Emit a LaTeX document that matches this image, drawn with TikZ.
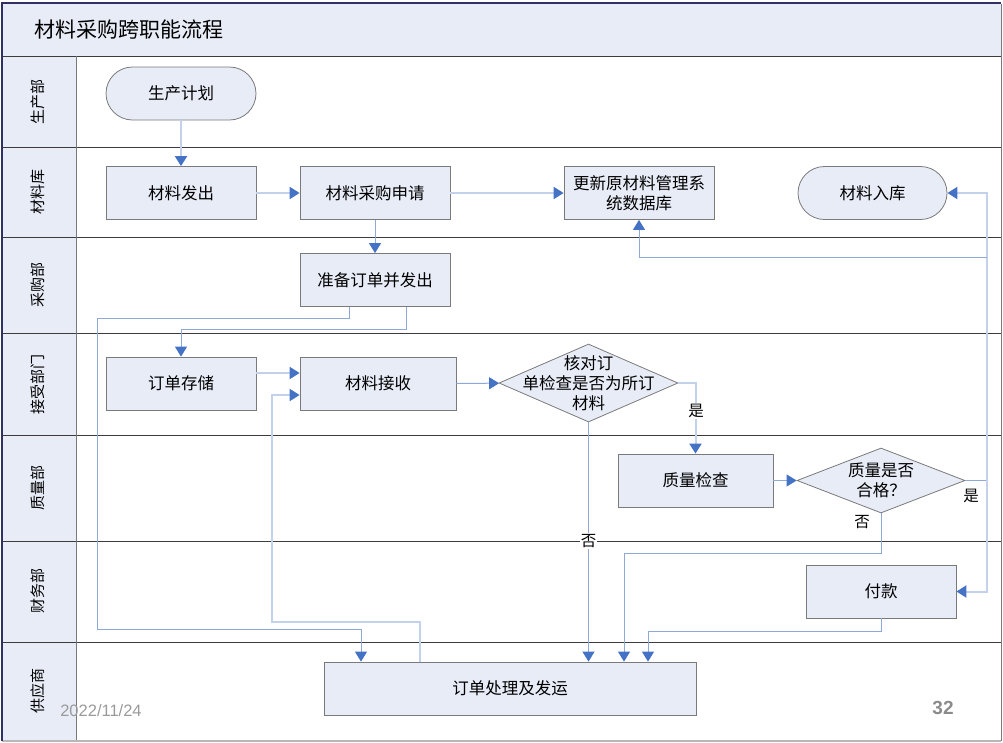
\documentclass[tikz,border=0pt]{standalone}
\usepackage{fontspec}
\newfontfamily\cjk{Noto Sans CJK SC}
\newfontfamily\arial{Liberation Sans}
\usetikzlibrary{arrows.meta,shapes.geometric}
\definecolor{nodefill}{HTML}{E8ECF7}
\definecolor{bordergray}{HTML}{7A7A7A}
\definecolor{lanegray}{HTML}{3C3C3C}
\definecolor{linethin}{HTML}{8EA8DA}
\definecolor{linethick}{HTML}{C3D1EC}
\definecolor{arrowblue}{HTML}{4472C4}
\definecolor{footgray}{HTML}{9A9A9A}
\tikzset{
  box/.style={draw=bordergray, line width=0.8pt, fill=nodefill, minimum width=150pt, minimum height=53pt,
    font=\cjk\fontsize{16.5}{20}\selectfont, align=center, inner sep=2pt},
  term/.style={box, rounded corners=26.5pt},
  dec/.style={diamond, draw=bordergray, line width=0.8pt, fill=nodefill, inner sep=0pt},
  dectext/.style={font=\cjk\fontsize{16.5}{20}\selectfont, align=center, inner sep=0pt},
  tip/.style={-{Triangle[width=12pt,length=10pt,color=arrowblue,fill=arrowblue]}},
  connthin/.style={draw=linethin, line width=1pt, tip},
  connthick/.style={draw=linethick, line width=2pt, tip},
  lanelabel/.style={rotate=90, font=\cjk\fontsize{15}{17}\selectfont},
  edgelabel/.style={font=\cjk\fontsize{15.5}{17}\selectfont, fill=white, inner sep=1pt},
  laneline/.style={draw=lanegray, line width=1pt}
}
\begin{document}
\begin{tikzpicture}[x=1pt,y=-1pt]
\useasboundingbox (0,0) rectangle (1003,742);
% frame and bands
\fill[nodefill] (2,4) rectangle (1001,56);
\fill[nodefill] (2,56) rectangle (76,741);
\foreach \yy in {56,147,237,333,435,541,642} {\draw[laneline] (2,\yy) -- (1001,\yy);}
\draw[draw=bordergray, line width=1pt] (76,56) -- (76,741);
\draw[draw=bordergray, line width=1pt] (1001,4) -- (1001,741);
\draw[draw=footgray!70, line width=1.5pt] (2,741) -- (1001,741);
\draw[draw=lanegray!80!blue, line width=2pt] (2,741) -- (2,3) -- (1001,3);
\node[anchor=west, font=\cjk\fontsize{21}{24}\selectfont] (title) at (31,30) {材料采购跨职能流程};
% lane labels
\node[lanelabel] (l1) at (38,101.5) {生产部};
\node[lanelabel] (l2) at (38,192) {材料库};
\node[lanelabel] (l3) at (38,285) {采购部};
\node[lanelabel] (l4) at (38,384) {接受部门};
\node[lanelabel] (l5) at (38,488) {质量部};
\node[lanelabel] (l6) at (38,591) {财务部};
\node[lanelabel] (l7) at (38,691) {供应商};
% nodes
\node[term] (plan) at (181,93.5) {生产计划};
\node[box] (out) at (181,193) {材料发出};
\node[box] (req) at (375,193) {材料采购申请};
\node[box] (upd) at (639,193) {更新原材料管理系\\统数据库};
\node[term, minimum width=149pt] (stock) at (872.5,193) {材料入库};
\node[box] (prep) at (375,280) {准备订单并发出};
\node[box] (store) at (181,383.5) {订单存储};
\node[box, minimum width=156pt] (recv) at (378,383.5) {材料接收};
\node[dec, minimum width=179pt, minimum height=78pt] (d1) at (588.5,383) {};
\node[dectext] (d1t) at (588.5,383) {核对订\\单检查是否为所订\\材料};
\node[box, minimum width=155pt] (qc) at (695.5,480.5) {质量检查};
\node[dec, minimum width=168pt, minimum height=65pt] (d2) at (881,480.5) {};
\node[dectext] (d2t) at (881,480) {质量是否\\合格？};
\node[box] (pay) at (881,591.5) {付款};
\node[box, minimum width=372pt] (ship) at (510,688.5) {订单处理及发运};
% junction coordinates
\coordinate (j1) at (987,480.5);
\coordinate (j2) at (987,257);
% connectors
\draw[connthick] (plan) -- (out);
\draw[connthick] (out) -- (req);
\draw[connthick] (req) -- (upd);
\draw[connthin] (req) -- (prep);
\draw[connthin] ([xshift=-26pt]prep.south) -- ++(0,12) -| (97,629) -| ([xshift=-149pt]ship.north);
\draw[connthin] ([xshift=31pt]prep.south) -- ++(0,23) -| (store.north);
\draw[connthick] ([yshift=10.5pt]store.east) -- ([yshift=10.5pt]recv.west);
\draw[connthick] ([xshift=-90pt]ship.north) |- (272,622) |- ([yshift=-11.5pt]recv.west);
\draw[connthin] (recv) -- (d1);
\draw[connthick] (d1.east) -| (qc.north);
\draw[connthin] (d1.south) -- (d1.south |- ship.north);
\draw[connthin] (qc) -- (d2);
\draw[draw=linethin, line width=1pt] (d2.east) -- (j1);
\draw[connthick] (j1) |- (stock.east);
\draw[connthick] (j1) |- (pay.east);
\draw[connthin] (j2) -| (upd.south);
\draw[connthin] (d2.south) -- ++(0,40) -| ([xshift=114pt]ship.north);
\draw[connthin] (pay.south) -- ++(0,13) -| ([xshift=138pt]ship.north);
% edge labels
\node[edgelabel] (yes1) at (696,411) {是};
\node[edgelabel] (no1) at (588.5,541) {否};
\node[edgelabel] (yes2) at (971,496) {是};
\node[edgelabel] (no2) at (862,522) {否};
% footer
\node[font=\arial\fontsize{16.5}{19}\selectfont, text=footgray, inner sep=0pt] (date) at (101,711) {2022/11/24};
\node[font=\arial\bfseries\fontsize{19}{22}\selectfont, text=footgray!90!black, inner sep=0pt] (page) at (943,708) {32};
\end{tikzpicture}
\end{document}
